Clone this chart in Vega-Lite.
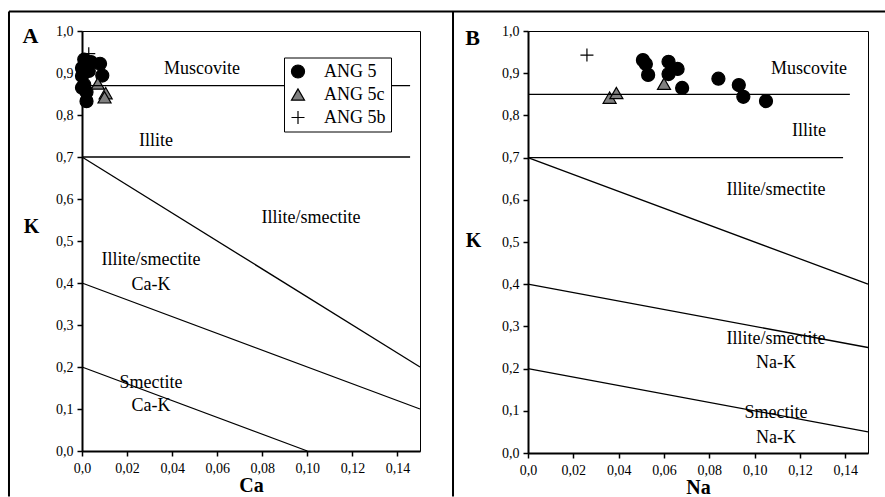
{
  "$schema": "https://vega.github.io/schema/vega-lite/v6.json",
  "background": "white",
  "padding": {"left": 7, "top": 10, "right": 0, "bottom": 0},
  "autosize": {"type": "pad"},
  "spacing": 108,
  "bounds": "flush",
  "config": {
    "font": "Liberation Serif",
    "view": {"stroke": "black", "strokeWidth": 1},
    "axis": {
      "grid": false,
      "domainColor": "black",
      "domainWidth": 2,
      "tickColor": "black",
      "tickWidth": 1.5,
      "tickSize": 5,
      "labelFont": "Liberation Serif",
      "labelFontSize": 14,
      "labelColor": "black",
      "titleFont": "Liberation Serif",
      "titleFontSize": 20,
      "titleFontWeight": "bold",
      "titleColor": "black"
    },
    "text": {"font": "Liberation Serif", "fontSize": 18, "color": "black"}
  },
  "resolve": {
    "scale": {"fill": "independent", "shape": "independent", "stroke": "independent"},
    "legend": {"fill": "independent", "shape": "independent", "stroke": "independent"}
  },
  "datasets": {
    "pointsA": [
      {"Ca": 0.001, "K": 0.932, "series": "ANG 5"},
      {"Ca": 0.004, "K": 0.926, "series": "ANG 5"},
      {"Ca": 0.008, "K": 0.922, "series": "ANG 5"},
      {"Ca": 0.000, "K": 0.912, "series": "ANG 5"},
      {"Ca": 0.003, "K": 0.905, "series": "ANG 5"},
      {"Ca": 0.009, "K": 0.894, "series": "ANG 5"},
      {"Ca": 0.000, "K": 0.893, "series": "ANG 5"},
      {"Ca": 0.001, "K": 0.872, "series": "ANG 5"},
      {"Ca": 0.000, "K": 0.865, "series": "ANG 5"},
      {"Ca": 0.002, "K": 0.855, "series": "ANG 5"},
      {"Ca": 0.002, "K": 0.833, "series": "ANG 5"},
      {"Ca": 0.007, "K": 0.875, "series": "ANG 5c"},
      {"Ca": 0.0105, "K": 0.852, "series": "ANG 5c"},
      {"Ca": 0.010, "K": 0.842, "series": "ANG 5c"},
      {"Ca": 0.003, "K": 0.946, "series": "ANG 5b"}
    ],
    "pointsB": [
      {"Na": 0.0507, "K": 0.931, "series": "ANG 5"},
      {"Na": 0.052, "K": 0.922, "series": "ANG 5"},
      {"Na": 0.053, "K": 0.896, "series": "ANG 5"},
      {"Na": 0.062, "K": 0.927, "series": "ANG 5"},
      {"Na": 0.062, "K": 0.898, "series": "ANG 5"},
      {"Na": 0.066, "K": 0.910, "series": "ANG 5"},
      {"Na": 0.068, "K": 0.865, "series": "ANG 5"},
      {"Na": 0.084, "K": 0.887, "series": "ANG 5"},
      {"Na": 0.093, "K": 0.872, "series": "ANG 5"},
      {"Na": 0.095, "K": 0.844, "series": "ANG 5"},
      {"Na": 0.105, "K": 0.834, "series": "ANG 5"},
      {"Na": 0.036, "K": 0.842, "series": "ANG 5c"},
      {"Na": 0.039, "K": 0.853, "series": "ANG 5c"},
      {"Na": 0.060, "K": 0.875, "series": "ANG 5c"},
      {"Na": 0.026, "K": 0.943, "series": "ANG 5b"}
    ],
    "linesA": [
      {"Ca": 0, "K": 0.87, "Ca2": 0.1456, "K2": 0.87},
      {"Ca": 0, "K": 0.70, "Ca2": 0.1456, "K2": 0.70},
      {"Ca": 0, "K": 0.70, "Ca2": 0.15, "K2": 0.20},
      {"Ca": 0, "K": 0.40, "Ca2": 0.15, "K2": 0.10},
      {"Ca": 0, "K": 0.20, "Ca2": 0.10, "K2": 0.00}
    ],
    "linesB": [
      {"Na": 0, "K": 0.85, "Na2": 0.142, "K2": 0.85},
      {"Na": 0, "K": 0.70, "Na2": 0.139, "K2": 0.70},
      {"Na": 0, "K": 0.70, "Na2": 0.15, "K2": 0.40},
      {"Na": 0, "K": 0.40, "Na2": 0.15, "K2": 0.25},
      {"Na": 0, "K": 0.20, "Na2": 0.15, "K2": 0.05}
    ],
    "labelsA": [
      {"Ca": 0.0533, "K": 0.910, "label": "Muscovite"},
      {"Ca": 0.0328, "K": 0.739, "label": "Illite"},
      {"Ca": 0.1016, "K": 0.554, "label": "Illite/smectite"},
      {"Ca": 0.0306, "K": 0.454, "label": "Illite/smectite"},
      {"Ca": 0.0306, "K": 0.396, "label": "Ca-K"},
      {"Ca": 0.0306, "K": 0.163, "label": "Smectite"},
      {"Ca": 0.0306, "K": 0.108, "label": "Ca-K"}
    ],
    "labelsB": [
      {"Na": 0.124, "K": 0.911, "label": "Muscovite"},
      {"Na": 0.124, "K": 0.764, "label": "Illite"},
      {"Na": 0.1094, "K": 0.624, "label": "Illite/smectite"},
      {"Na": 0.1094, "K": 0.27, "label": "Illite/smectite"},
      {"Na": 0.1094, "K": 0.213, "label": "Na-K"},
      {"Na": 0.1094, "K": 0.094, "label": "Smectite"},
      {"Na": 0.1094, "K": 0.036, "label": "Na-K"}
    ]
  },
  "hconcat": [
    {
      "width": 338,
      "height": 420,
      "layer": [
        {
          "data": {"name": "pointsA"},
          "mark": {"type": "point", "filled": true, "opacity": 1, "size": 170, "strokeWidth": 1.2},
          "encoding": {
            "x": {
              "field": "Ca", "type": "quantitative",
              "scale": {"domain": [0, 0.15], "nice": false, "zero": false},
              "axis": {
                "title": "Ca",
                "values": [0, 0.01, 0.02, 0.03, 0.04, 0.05, 0.06, 0.07, 0.08, 0.09, 0.1, 0.11, 0.12, 0.13, 0.14, 0.15],
                "labelExpr": "(abs(round(datum.value*100)) % 2 == 0 && datum.value < 0.145) ? (datum.value == 0 ? '0,0' : replace(format(datum.value, '.2f'), '.', ',')) : ''",
                "labelPadding": 5,
                "labelFlush": false,
                "labelOverlap": false,
                "titlePadding": 0
              }
            },
            "y": {
              "field": "K", "type": "quantitative",
              "scale": {"domain": [0, 1], "nice": false, "zero": false},
              "axis": {
                "title": "K",
                "values": [0, 0.05, 0.1, 0.15, 0.2, 0.25, 0.3, 0.35, 0.4, 0.45, 0.5, 0.55, 0.6, 0.65, 0.7, 0.75, 0.8, 0.85, 0.9, 0.95, 1],
                "labelExpr": "abs(round(datum.value*100)) % 10 == 0 ? replace(format(datum.value, '.1f'), '.', ',') : ''",
                "labelPadding": 4,
                "labelFlush": false,
                "labelOverlap": false,
                "titleAngle": 0,
                "titleX": -51,
                "titleY": 195.5,
                "titleAlign": "center",
                "titleBaseline": "middle"
              }
            },
            "fill": {
              "field": "series", "type": "nominal",
              "scale": {"domain": ["ANG 5", "ANG 5c", "ANG 5b"], "range": ["black", "#808080", "transparent"]},
              "legend": {
                "title": null, "orient": "none", "legendX": 202, "legendY": 26.5,
                "strokeColor": "black", "fillColor": "white", "padding": 5, "rowPadding": 5,
                "labelFont": "Liberation Serif", "labelFontSize": 18, "labelColor": "black",
                "labelOffset": 17, "symbolSize": 170, "symbolStrokeWidth": 1.2
              }
            },
            "stroke": {
              "field": "series", "type": "nominal",
              "scale": {"domain": ["ANG 5", "ANG 5c", "ANG 5b"], "range": ["black", "black", "black"]},
              "legend": {
                "title": null, "orient": "none", "legendX": 202, "legendY": 26.5,
                "strokeColor": "black", "fillColor": "white", "padding": 5, "rowPadding": 5,
                "labelFont": "Liberation Serif", "labelFontSize": 18, "labelColor": "black",
                "labelOffset": 17, "symbolSize": 170, "symbolStrokeWidth": 1.2
              }
            },
            "shape": {
              "field": "series", "type": "nominal",
              "scale": {"domain": ["ANG 5", "ANG 5c", "ANG 5b"], "range": ["circle", "triangle-up", "M-1,0H1M0,-1V1"]},
              "legend": {
                "title": null, "orient": "none", "legendX": 202, "legendY": 26.5,
                "strokeColor": "black", "fillColor": "white", "padding": 5, "rowPadding": 5,
                "labelFont": "Liberation Serif", "labelFontSize": 18, "labelColor": "black",
                "labelOffset": 17, "symbolSize": 170, "symbolStrokeWidth": 1.2
              }
            }
          }
        },
        {
          "data": {"values": [{}]},
          "mark": {"type": "rule", "color": "black", "strokeWidth": 2},
          "encoding": {
            "x": {"datum": -0.0324, "type": "quantitative"},
            "x2": {"datum": 0.16465},
            "y": {"datum": 1.0464, "type": "quantitative"}
          }
        },
        {
          "data": {"values": [{}]},
          "mark": {"type": "rule", "color": "black", "strokeWidth": 2},
          "encoding": {
            "x": {"datum": -0.0324, "type": "quantitative"},
            "y": {"datum": 1.0464, "type": "quantitative"},
            "y2": {"datum": -0.1083}
          }
        },
        {
          "data": {"values": [{}]},
          "mark": {"type": "rule", "color": "black", "strokeWidth": 2},
          "encoding": {
            "x": {"datum": 0.16465, "type": "quantitative"},
            "y": {"datum": 1.0464, "type": "quantitative"},
            "y2": {"datum": -0.1083}
          }
        },
        {
          "data": {"name": "linesA"},
          "mark": {"type": "rule", "color": "black", "strokeWidth": 1.3},
          "encoding": {
            "x": {"field": "Ca", "type": "quantitative"},
            "y": {"field": "K", "type": "quantitative"},
            "x2": {"field": "Ca2"},
            "y2": {"field": "K2"}
          }
        },
        {
          "data": {"name": "labelsA"},
          "mark": {"type": "text", "align": "center", "baseline": "middle", "fontSize": 18},
          "encoding": {
            "x": {"field": "Ca", "type": "quantitative"},
            "y": {"field": "K", "type": "quantitative"},
            "text": {"field": "label"}
          }
        },
        {
          "data": {"values": [{}]},
          "mark": {"type": "text", "text": "A", "fontSize": 22, "fontWeight": "bold", "align": "center", "baseline": "middle"},
          "encoding": {
            "x": {"datum": -0.0229, "type": "quantitative"},
            "y": {"datum": 0.988, "type": "quantitative"}
          }
        }
      ]
    },
    {
      "width": 340,
      "height": 422,
      "layer": [
        {
          "data": {"name": "pointsB"},
          "mark": {"type": "point", "filled": true, "opacity": 1, "size": 170, "stroke": "black", "strokeWidth": 1.2},
          "encoding": {
            "x": {
              "field": "Na", "type": "quantitative",
              "scale": {"domain": [0, 0.15], "nice": false, "zero": false},
              "axis": {
                "title": "Na",
                "values": [0, 0.01, 0.02, 0.03, 0.04, 0.05, 0.06, 0.07, 0.08, 0.09, 0.1, 0.11, 0.12, 0.13, 0.14, 0.15],
                "labelExpr": "(abs(round(datum.value*100)) % 2 == 0 && datum.value < 0.145) ? (datum.value == 0 ? '0,0' : replace(format(datum.value, '.2f'), '.', ',')) : ''",
                "labelPadding": 5,
                "labelFlush": false,
                "labelOverlap": false,
                "titlePadding": 0
              }
            },
            "y": {
              "field": "K", "type": "quantitative",
              "scale": {"domain": [0, 1], "nice": false, "zero": false},
              "axis": {
                "title": "K",
                "values": [0, 0.05, 0.1, 0.15, 0.2, 0.25, 0.3, 0.35, 0.4, 0.45, 0.5, 0.55, 0.6, 0.65, 0.7, 0.75, 0.8, 0.85, 0.9, 0.95, 1],
                "labelExpr": "abs(round(datum.value*100)) % 10 == 0 ? replace(format(datum.value, '.1f'), '.', ',') : ''",
                "labelPadding": 4,
                "labelFlush": false,
                "labelOverlap": false,
                "titleAngle": 0,
                "titleX": -55,
                "titleY": 209.5,
                "titleAlign": "center",
                "titleBaseline": "middle"
              }
            },
            "fill": {
              "field": "series", "type": "nominal",
              "scale": {"domain": ["ANG 5", "ANG 5c", "ANG 5b"], "range": ["black", "#808080", "transparent"]},
              "legend": null
            },
            "shape": {
              "field": "series", "type": "nominal",
              "scale": {"domain": ["ANG 5", "ANG 5c", "ANG 5b"], "range": ["circle", "triangle-up", "M-1,0H1M0,-1V1"]},
              "legend": null
            }
          }
        },
        {
          "data": {"values": [{}]},
          "mark": {"type": "rule", "color": "black", "strokeWidth": 2},
          "encoding": {
            "x": {"datum": -0.03309, "type": "quantitative"},
            "x2": {"datum": 0.1575},
            "y": {"datum": 1.0462, "type": "quantitative"}
          }
        },
        {
          "data": {"name": "linesB"},
          "mark": {"type": "rule", "color": "black", "strokeWidth": 1.3},
          "encoding": {
            "x": {"field": "Na", "type": "quantitative"},
            "y": {"field": "K", "type": "quantitative"},
            "x2": {"field": "Na2"},
            "y2": {"field": "K2"}
          }
        },
        {
          "data": {"name": "labelsB"},
          "mark": {"type": "text", "align": "center", "baseline": "middle", "fontSize": 18},
          "encoding": {
            "x": {"field": "Na", "type": "quantitative"},
            "y": {"field": "K", "type": "quantitative"},
            "text": {"field": "label"}
          }
        },
        {
          "data": {"values": [{}]},
          "mark": {"type": "text", "text": "B", "fontSize": 22, "fontWeight": "bold", "align": "center", "baseline": "middle"},
          "encoding": {
            "x": {"datum": -0.0244, "type": "quantitative"},
            "y": {"datum": 0.983, "type": "quantitative"}
          }
        }
      ]
    }
  ]
}
